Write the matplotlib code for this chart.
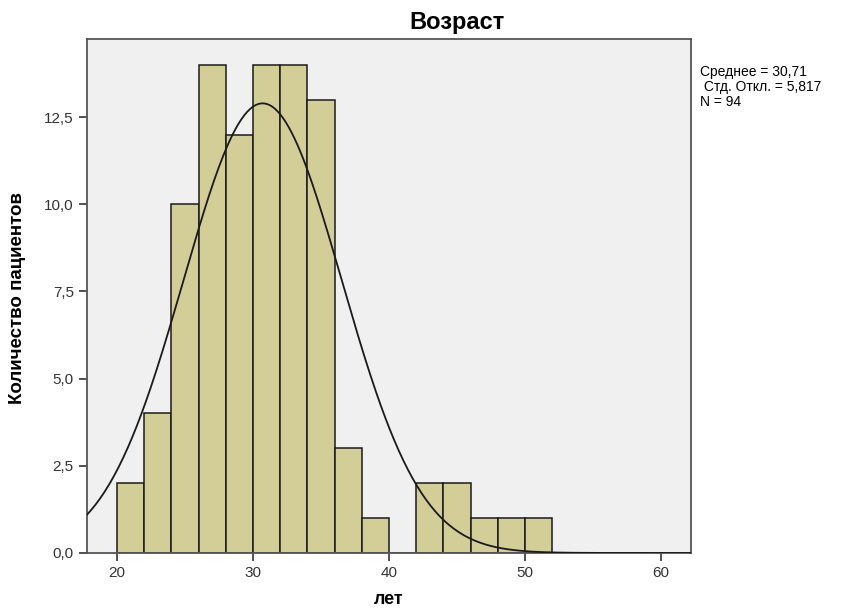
import numpy as np
import matplotlib.pyplot as plt
from matplotlib.ticker import FuncFormatter

# histogram bins (age, years) and patient counts
bin_edges = [20, 22, 24, 26, 28, 30, 32, 34, 36, 38, 40, 42, 44, 46, 48, 50, 52]
counts = [2, 4, 10, 14, 12, 14, 14, 13, 3, 1, 0, 2, 2, 1, 1, 1]

mean_age = 30.71
std_age = 5.817
n_patients = 94

x_ticks = [20, 30, 40, 50, 60]
y_ticks = [0, 2.5, 5.0, 7.5, 10.0, 12.5]

plt.rcParams["font.family"] = ["Liberation Sans", "DejaVu Sans"]

fig = plt.figure(figsize=(8.43, 6.08), dpi=100)
ax = fig.add_axes([0.1032, 0.0905, 0.7165, 0.8454])
ax.set_facecolor("#f0f0f0")

widths = np.diff(bin_edges)
ax.bar(bin_edges[:-1], counts, width=widths, align="edge",
       color="#d3ce98", edgecolor="#1a1a1a", linewidth=1.1, zorder=2)

# fitted normal curve scaled to counts
xs = np.linspace(17.8, 62.2, 400)
bw = widths[0]
ys = n_patients * bw / (std_age * np.sqrt(2 * np.pi)) * np.exp(-0.5 * ((xs - mean_age) / std_age) ** 2)
ax.plot(xs, ys, color="#1a1a1a", linewidth=1.3, zorder=3)

ax.set_xlim(17.8, 62.2)
ax.set_ylim(0, 14.74)
ax.set_xticks(x_ticks)
ax.set_yticks(y_ticks)
ax.yaxis.set_major_formatter(FuncFormatter(lambda v, p: f"{v:.1f}".replace(".", ",")))
ax.tick_params(direction="out", length=6, width=1.2, colors="#333333",
               labelsize=11, labelcolor="#333333")
for s in ax.spines.values():
    s.set_color("#555555")
    s.set_linewidth(1.3)

# axis labels placed in figure coords to keep them inside the canvas
fig.text(389 / 843, 1 - 600 / 608, "лет", ha="center", va="center",
         fontsize=13, fontweight="bold")
fig.text(18 / 843, 1 - 298 / 608, "Количество пациентов", ha="center", va="center",
         rotation=90, fontsize=13.5, fontweight="bold")

fig.text(457 / 843, 1 - 23 / 608, "Возраст", ha="center", va="center",
         fontsize=17, fontweight="bold")
fig.text(700 / 843, 1 - 87 / 608,
         "Среднее = 30,71\n Стд. Откл. = 5,817\nN = 94",
         ha="left", va="center", fontsize=10, linespacing=1.05)

fig.savefig("out.png", dpi=100)
